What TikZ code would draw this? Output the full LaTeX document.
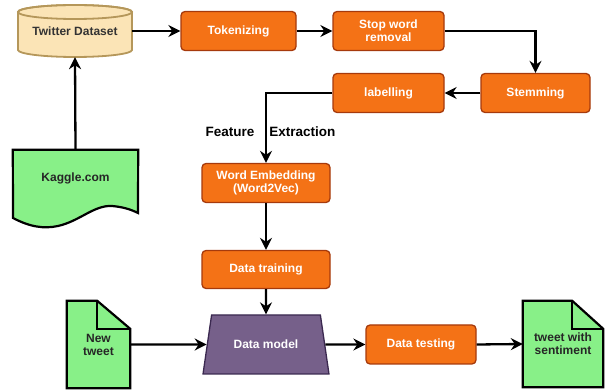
\documentclass[tikz,border=0pt]{standalone}
\usepackage{fontspec}
\setmainfont{Liberation Sans}
\usetikzlibrary{arrows.meta,calc,shapes.geometric,backgrounds}

\definecolor{procfill}{HTML}{F47216}
\definecolor{procline}{HTML}{A63A0C}
\definecolor{dbfill}{HTML}{FBE4B6}
\definecolor{dbline}{HTML}{B5975A}
\definecolor{docfill}{HTML}{88F088}
\definecolor{modelfill}{HTML}{76608A}
\definecolor{modelline}{HTML}{3B2950}

\tikzset{
  procbox/.style={rectangle, rounded corners=4pt, fill=procfill, draw=procline,
    line width=1.3pt, text=white, align=center, inner sep=2pt},
  docbox/.style={rectangle, align=center, inner sep=0pt, text=black!85},
  docline/.style={fill=docfill, draw=black, line width=2.2pt, line join=miter},
  flow/.style={line width=2.3pt, -{Stealth[length=12pt,width=12pt,inset=4pt]}},
}

\begin{document}
\begin{tikzpicture}[x=1pt, y=-1pt, font=\fontsize{12}{13}\selectfont\bfseries]
\useasboundingbox (0,0) rectangle (606,390);

%dataset cylinder
\filldraw[fill=dbfill, draw=dbline, line width=1.8pt] (18,12) -- (18,50)
  arc[start angle=180, end angle=360, x radius=57pt, y radius=7pt] -- (132,12)
  arc[start angle=0, end angle=180, x radius=57pt, y radius=7pt] -- cycle;
\draw[dbline, line width=1.8pt] (75,12) ellipse[x radius=57pt, y radius=7pt];
\node[minimum width=114pt, minimum height=52pt, text=black!80] (twitter) at (75,31)
  {\raisebox{-7pt}{Twitter Dataset}};

%processing steps
\node[procbox, minimum width=115pt, minimum height=39pt] (tok) at (238.5,31) {Tokenizing};
\node[procbox, minimum width=111pt, minimum height=39pt] (stop) at (388.5,31) {Stop word\\removal};
\node[procbox, minimum width=109pt, minimum height=39pt] (stem) at (535.5,93) {Stemming};
\node[procbox, minimum width=111pt, minimum height=39pt] (lab) at (388.5,93) {labelling};
\node[procbox, minimum width=128pt, minimum height=39pt] (emb) at (266,183) {Word Embedding\\(Word2Vec)};
\node[procbox, minimum width=128pt, minimum height=38pt] (train) at (266,269.5) {Data training};
\node[procbox, minimum width=110pt, minimum height=39pt] (test) at (421,344.5) {Data testing};

\node[trapezium, trapezium left angle=70, trapezium right angle=70, trapezium stretches=true,
  minimum width=126pt, minimum height=59pt, fill=modelfill, draw=modelline,
  line width=1.3pt, text=white] (model) at (266,344.5) {Data model};

%documents
\node[docbox, minimum width=125pt, minimum height=56pt] (kaggle) at (75.5,178) {Kaggle.com};
\node[docbox, minimum width=63pt, minimum height=87pt] (newtw) at (98.5,344.5) {New\\tweet};
\node[docbox, minimum width=80pt, minimum height=86pt] (result) at (563,344) {tweet with\\sentiment};

\begin{scope}[on background layer]
\filldraw[docline] (kaggle.north west) -- (13,218)
  .. controls (30,227) and (44,229) .. (58,226)
  .. controls (80,221) and (94,205) .. (112,206)
  .. controls (124,207) and (132,210) .. (138,213) -- (kaggle.north east) -- cycle;
\foreach \d/\f in {newtw/33, result/31} {
  \filldraw[docline] (\d.north west) -- ($(\d.north east)+(-\f,0)$)
    -- ($(\d.north east)+(0,28)$) -- (\d.south east) -- (\d.south west) -- cycle;
  \draw[line width=2.2pt] ($(\d.north east)+(-\f,0)$) -- ($(\d.north east)+(-\f,28)$)
    -- ($(\d.north east)+(0,28)$);
}
\end{scope}

\node[font=\fontsize{13.5}{14}\selectfont\bfseries] (featlbl) at (270.5,132)
  {Feature\hspace{15pt}Extraction};

%connectors
\draw[flow] (kaggle.north) -- (twitter.south);
\draw[flow] (twitter.east) -- (tok.west);
\draw[flow] (tok.east) -- (stop.west);
\draw[flow] (stop.east) -| (stem.north);
\draw[flow] (stem.west) -- (lab.east);
\draw[flow] (lab.west) -| (emb.north);
\draw[flow] (emb.south) -- (train.north);
\draw[flow] (train.south) -- (model.north);
\draw[flow] (newtw.east) -- (model.west);
\draw[flow] (model.east) -- (test.west);
\draw[flow] (test.east) -- (result.west);

\end{tikzpicture}
\end{document}
